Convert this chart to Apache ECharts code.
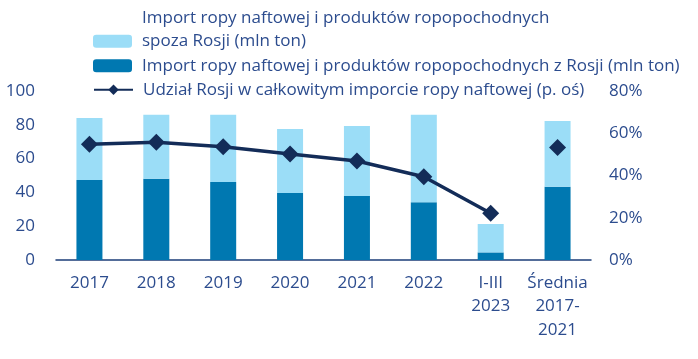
<!DOCTYPE html>
<html>
<head>
<meta charset="utf-8">
<script src="https://cdn.jsdelivr.net/npm/echarts@6/dist/echarts.min.js"></script>
<style>html,body{margin:0;padding:0;background:#fff;}#c{width:698px;height:359px;}</style>
</head>
<body>
<div id="c"></div>
<script>
const categories = ['2017', '2018', '2019', '2020', '2021', '2022', 'I-III\n2023', 'Średnia\n2017-\n2021'];
const fromRussia = [47.3, 48.1, 46.2, 39.6, 37.9, 34.1, 4.5, 43.4];
const nonRussia = [36.7, 37.9, 39.8, 37.9, 41.4, 51.9, 16.8, 38.8];
const russiaShare = [54.8, 55.7, 53.6, 50.2, 46.9, 39.4, 22.1, null];
const averageShare = [null, null, null, null, null, null, null, 53.2];
const leftTicks = [0, 20, 40, 60, 80, 100];
const rightTicks = [0, 20, 40, 60, 80];

const nameLight = 'Import ropy naftowej i produktów ropopochodnych\nspoza Rosji (mln ton)';
const nameDark = 'Import ropy naftowej i produktów ropopochodnych z Rosji (mln ton)';
const nameLine = 'Udział Rosji w całkowitym imporcie ropy naftowej (p. oś)';

const FONT = 'Open Sans';
const TXT = '#2c4c8e';
const LH = 23.5;
const richText = { t: { fontFamily: FONT, fontSize: 17, color: TXT, lineHeight: LH, padding: [0, 0, 0, 5] } };
const wrapRich = s => s.split('\n').map(l => '{t|' + l + '}').join('\n');
const legendBase = {
  orient: 'vertical', left: 93, padding: 0, itemWidth: 39, itemHeight: 13, itemGap: 0,
  textStyle: { fontFamily: FONT, fontSize: 17, color: TXT, lineHeight: LH, rich: richText },
  formatter: name => wrapRich(name)
};
const chart = echarts.init(document.getElementById('c'));
chart.setOption({
  animation: false,
  textStyle: { fontFamily: FONT },
  legend: [
    Object.assign({}, legendBase, { top: 6, data: [nameLight],
      formatter: name => wrapRich(name) + '\n{t| }' }),
    Object.assign({}, legendBase, { top: 54, data: [nameDark] }),
    Object.assign({}, legendBase, { top: 78, data: [nameLine] })
  ],
  grid: { left: 56, right: 107, top: 91, bottom: 99 },
  xAxis: {
    type: 'category', data: categories,
    axisLine: { lineStyle: { color: '#1d3e78', width: 1.5 } },
    axisTick: { show: false },
    axisLabel: { fontFamily: FONT, fontSize: 17, color: TXT, lineHeight: LH, margin: 11, interval: 0 }
  },
  yAxis: [
    {
      type: 'value', min: 0, max: 100, interval: 20,
      splitLine: { show: false }, axisLine: { show: false }, axisTick: { show: false },
      axisLabel: { fontFamily: FONT, fontSize: 17, color: TXT, margin: 21,
        formatter: v => leftTicks.includes(v) ? String(v) : '' }
    },
    {
      type: 'value', min: 0, max: 80, interval: 20,
      splitLine: { show: false }, axisLine: { show: false }, axisTick: { show: false },
      axisLabel: { fontFamily: FONT, fontSize: 17, color: TXT, margin: 18,
        formatter: v => rightTicks.includes(v) ? v + '%' : '' }
    }
  ],
  series: [
    { name: nameDark, type: 'bar', stack: 'imp', data: fromRussia, barWidth: 26,
      itemStyle: { color: '#0078b1' } },
    { name: nameLight, type: 'bar', stack: 'imp', data: nonRussia, barWidth: 26,
      itemStyle: { color: '#9bddf7' } },
    { name: nameLine, type: 'line', yAxisIndex: 1, data: russiaShare,
      symbol: 'diamond', symbolSize: 17,
      lineStyle: { color: '#132c58', width: 3.5 },
      itemStyle: { color: '#132c58' } },
    { name: 'Średnia udział', type: 'scatter', yAxisIndex: 1, data: averageShare,
      symbol: 'diamond', symbolSize: 17, itemStyle: { color: '#132c58', opacity: 1 } }
  ]
});
</script>
</body>
</html>
